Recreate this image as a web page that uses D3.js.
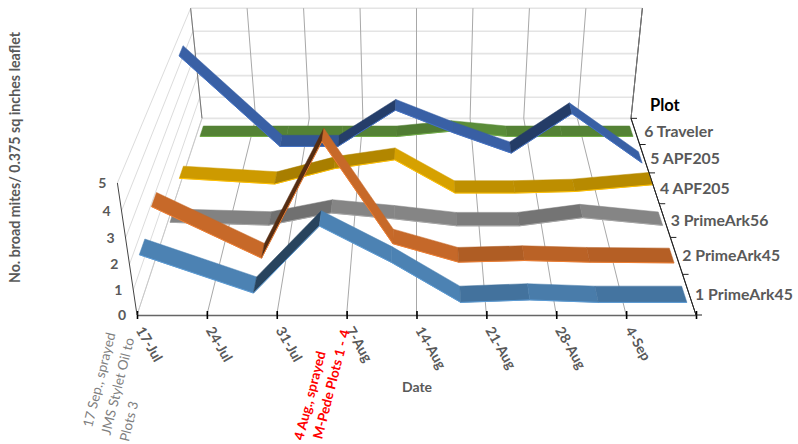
<!DOCTYPE html>
<html>
<head>
<meta charset="utf-8">
<title>Broad mites by plot</title>
<script src="https://cdn.jsdelivr.net/npm/d3@7"></script>
<style>
  html, body { margin: 0; padding: 0; background: #fff; }
  text { font-family: Lato, "Open Sans", sans-serif; }
</style>
</head>
<body>
<svg id="chart" width="798" height="444"></svg>
<script>
// sampling dates and the date axis
const sampleDates = ["2015-07-17", "2015-07-28", "2015-08-04", "2015-08-11", "2015-08-18", "2015-08-25", "2015-09-01", "2015-09-10"];
const tickDates = ["2015-07-17", "2015-07-24", "2015-07-31", "2015-08-07", "2015-08-14", "2015-08-21", "2015-08-28", "2015-09-04", "2015-09-11"];

// one row of mites counts per plot, front to back
const plotNames = ["1 PrimeArk45", "2 PrimeArk45", "3 PrimeArk56", "4 APF205", "5 APF205", "6 Traveler"];
const plot1 = [1.9, 0.38, 3.0, 1.6, 0, 0.1, 0, 0];
const plot2 = [2.3, 0.2, 4.8, 0.8, 0.03, 0.1, 0.03, 0];
const plot3 = [0.2, 0.08, 0.6, 0.35, 0.05, 0.05, 0.4, 0.07];
const plot4 = [0.7, 0.45, 1.12, 1.5, 0.05, 0.05, 0.12, 0.42];
const plot5 = [4.7, 0.8, 0.8, 2.4, 1.4, 0.5, 2.25, 0.05];
const plot6 = [0, 0, 0, 0, 0.25, 0, 0, 0];
const plotValues = [plot1, plot2, plot3, plot4, plot5, plot6];
const plotColors = ["#5b9bd5", "#ed7d31", "#a5a5a5", "#ffc000", "#4472c4", "#70ad47"];
const valueTicks = [0, 1, 2, 3, 4, 5];

const svg = d3.select("#chart");
const day = 864e5;
const parse = d3.utcParse("%Y-%m-%d");

// world scales, x is centred on the camera
const cx = 416.5, floorY = 315;
const xScale = d3.scaleUtc()
  .domain([parse(tickDates[0]), parse(tickDates[8])])
  .range([-279.5, 279.5]);
const yScale = d3.scaleLinear().domain([0, 5]).range([0, 144]);
const zScale = d3.scaleLinear().domain([0, 6]).range([0, 6]);

// perspective projection of a world point to the page
const project = (x, h, z) => {
  const w = 1 + 0.0505 * z - 0.000455 * h;
  return [cx + x / w, (floorY - 26.8 * z - h) / w];
};

// faces get darker the steeper they climb
const shade = d3.scaleLinear()
  .domain([-1, -0.1, 0, 0.5, 1.6, 2.6, 4.6])
  .range([0.84, 0.8, 0.75, 0.68, 0.54, 0.44, 0.36])
  .clamp(true);
const darken = (c, k) => {
  const r = d3.rgb(c);
  return d3.rgb(r.r * k, r.g * k, r.b * k).formatHex();
};

const line = d3.line();
const xMin = xScale.range()[0], xMax = xScale.range()[1];

// back wall horizontals and side wall lines
const grid = svg.append("g").attr("fill", "none");
valueTicks.forEach(v => {
  const h = yScale(v);
  grid.append("path")
    .attr("d", line([project(xMin, h, 6), project(xMax, h, 6)]))
    .attr("stroke", "#e4e4e4").attr("stroke-width", 1.6);
  grid.append("path")
    .attr("d", line([project(xMin, h, 0), project(xMin, h, 6)]))
    .attr("stroke", "#dcdcdc").attr("stroke-width", 1);
});

// date lines across the floor and up the back wall
tickDates.forEach((d, i) => {
  const x = xScale(parse(d));
  const last = i === tickDates.length - 1;
  grid.append("path")
    .attr("d", line([project(x, 0, 0), project(x, 0, 6), project(x, yScale(5), 6)]))
    .attr("stroke", i === 0 ? "#c8c8c8" : last ? "#333" : "#a8a8a8").attr("stroke-width", 1);
});
grid.append("path")
  .attr("d", line([project(xMin, 0, 6), project(xMin, yScale(5), 6)]))
  .attr("stroke", "#777").attr("stroke-width", 1);
grid.append("path")
  .attr("d", line([project(xMax, 0, 6), project(xMax, yScale(5), 6)]))
  .attr("stroke", "#777").attr("stroke-width", 1);

// the ribbons, back plot first
const ribbonDepth = [0.3, 0.7];
d3.range(plotValues.length - 1, -1, -1).forEach(s => {
  const vals = plotValues[s];
  const color = plotColors[s];
  const g = svg.append("g");
  const zFront = zScale(s + ribbonDepth[0]), zBack = zScale(s + ribbonDepth[1]);
  const pts = sampleDates.map((d, i) => ({
    x: xScale(new Date(parse(d).getTime() + day / 2)),
    h: yScale(vals[i]),
    t: parse(d).getTime(),
    v: vals[i]
  }));
  d3.pairs(pts).forEach(([a, b]) => {
    const slope = (b.v - a.v) / ((b.t - a.t) / (7 * day));
    const fill = darken(color, shade(slope));
    const quad = [project(a.x, a.h, zFront), project(b.x, b.h, zFront), project(b.x, b.h, zBack), project(a.x, a.h, zBack)];
    g.append("path")
      .attr("d", line(quad) + "Z")
      .attr("fill", fill)
      .attr("stroke", fill)
      .attr("stroke-width", 0.5);
    g.append("path")
      .attr("d", line([quad[0], quad[1]]))
      .attr("fill", "none")
      .attr("stroke", color)
      .attr("stroke-width", 1);
  });
});

// date axis along the front of the floor
const xAxis = d3.axisBottom(xScale)
  .tickValues(tickDates.map(parse))
  .tickSize(0)
  .tickFormat((d, i) => i === tickDates.length - 1 ? "" : d3.utcFormat("%-d-%b")(d));
const xg = svg.append("g")
  .attr("transform", `translate(${cx},${floorY})`)
  .call(xAxis);
xg.select(".domain").attr("stroke", "#666").attr("stroke-width", 1.6);
xg.selectAll(".tick").append("line")
  .attr("y1", -4).attr("y2", 4)
  .attr("stroke", "#000").attr("stroke-width", 1.6);
xg.selectAll(".tick text")
  .attr("fill", "#595959")
  .attr("font-size", 14)
  .attr("font-weight", 700)
  .attr("text-anchor", "start")
  .attr("transform", "translate(2,13) rotate(60)")
  .attr("x", 0).attr("y", 0).attr("dy", "0.32em");

// value axis up the front left edge
const axisColor = "#444";
svg.append("path")
  .attr("d", line([project(xMin, 0, 0), project(xMin, yScale(5), 0)]))
  .attr("stroke", axisColor).attr("fill", "none");
svg.append("g").selectAll("text")
  .data(valueTicks)
  .join("text")
  .attr("x", d => project(xMin, yScale(d), 0)[0] - 11)
  .attr("y", d => project(xMin, yScale(d), 0)[1])
  .attr("dy", "0.35em")
  .attr("text-anchor", "end")
  .attr("fill", "#595959")
  .attr("font-size", 14)
  .attr("font-weight", 700)
  .text(d => d);

// plot axis up the right edge of the floor
svg.append("path")
  .attr("d", line([project(xMax, 0, 0), project(xMax, 0, 6)]))
  .attr("stroke", "#222").attr("fill", "none");
d3.range(0, 7).forEach(z => {
  const p = project(xMax, 0, z);
  svg.append("line")
    .attr("x1", p[0]).attr("x2", p[0] + 6)
    .attr("y1", p[1]).attr("y2", p[1])
    .attr("stroke", "#222");
});
svg.append("g").selectAll("text")
  .data(plotNames)
  .join("text")
  .attr("x", (d, i) => project(xMax, 0, i + 0.5)[0] + (i === 5 ? 9 : 6))
  .attr("y", (d, i) => project(xMax, 0, i + 0.5)[1])
  .attr("dy", "0.35em")
  .attr("fill", "#595959")
  .attr("font-size", 15.8)
  .attr("font-weight", 700)
  .text(d => d);
svg.append("text")
  .attr("x", 650).attr("y", 111)
  .attr("font-size", 16.5).attr("font-weight", 700)
  .attr("fill", "#000")
  .text("Plot");

// axis titles
svg.append("text")
  .attr("transform", "translate(20,283) rotate(-90)")
  .attr("fill", "#595959").attr("font-size", 14.2).attr("font-weight", 700)
  .text("No. broad mites/ 0.375 sq inches leaflet");
svg.append("text")
  .attr("x", 417).attr("y", 392)
  .attr("text-anchor", "middle")
  .attr("fill", "#595959").attr("font-size", 14).attr("font-weight", 700)
  .text("Date");

// spray notes under the date axis, each line slid along its baseline
const note = (lines, x, y, angle, attrs) => {
  const t = svg.append("text")
    .attr("transform", `translate(${x},${y}) rotate(${angle})`)
    .attr("fill", attrs.fill).attr("font-size", attrs.size).attr("font-weight", attrs.weight);
  lines.forEach((l, i) => t.append("tspan")
    .attr("x", attrs.slide[i]).attr("y", i * attrs.lead).text(l));
};
note(["17 Sep., sprayed", "JMS Stylet Oil to", "Plots 3"], 92, 428, -76,
  { fill: "#7f7f7f", size: 13.5, weight: 400, lead: 19.5, slide: [0, -3, -5] });
note(["4 Aug., sprayed", "M-Pede Plots 1 - 4"], 303, 441, -75.5,
  { fill: "#ff0000", size: 13.5, weight: 700, lead: 18, slide: [0, 6] });
</script>
</body>
</html>
